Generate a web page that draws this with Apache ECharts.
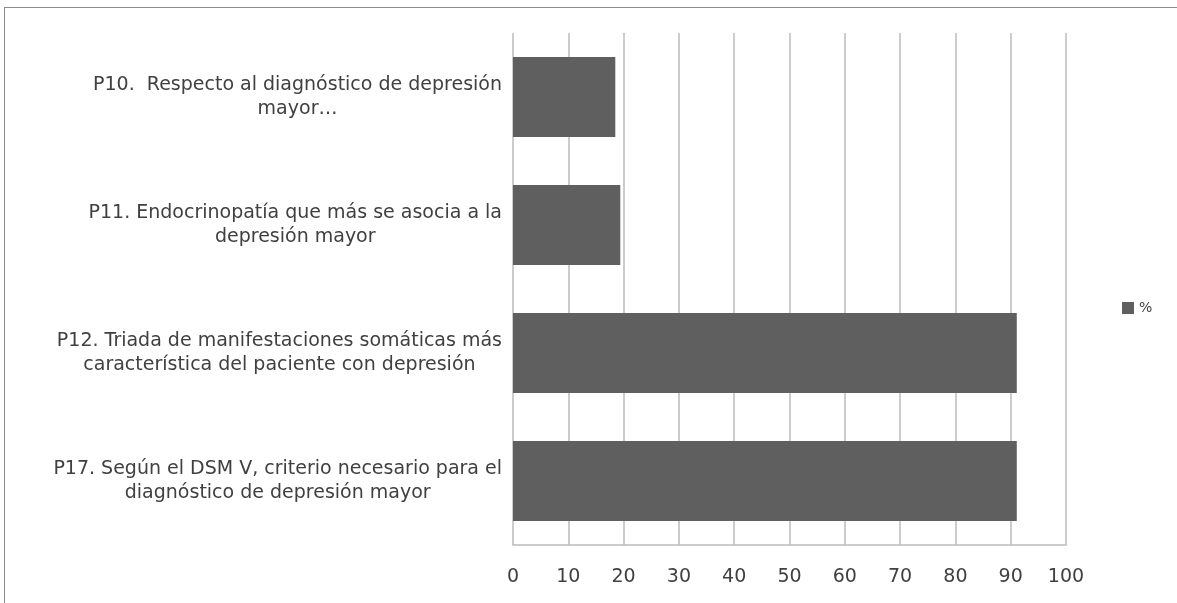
<!DOCTYPE html>
<html>
<head>
<meta charset="utf-8">
<script src="https://cdn.jsdelivr.net/npm/echarts@6/dist/echarts.min.js"></script>
<style>
html,body{margin:0;padding:0;background:#fff;}
#c{width:1177px;height:603px;position:relative;}
#frame{position:absolute;left:4px;top:7px;width:1200px;height:620px;border-left:1px solid #8c8c8c;border-top:1px solid #8c8c8c;pointer-events:none;}
</style>
</head>
<body>
<div id="c"></div>
<div id="frame"></div>
<script>
const categories = [
  ['P10.  Respecto al diagnóstico de depresión', 'mayor…'],
  ['P11. Endocrinopatía que más se asocia a la', 'depresión mayor'],
  ['P12. Triada de manifestaciones somáticas más', 'característica del paciente con depresión'],
  ['P17. Según el DSM V, criterio necesario para el', 'diagnóstico de depresión mayor']
];
const seriesName = '%';
const values = [18.5, 19.4, 91.1, 91.1];
const xTicks = {min: 0, max: 100, interval: 10};

const FONT = 'DejaVu Sans';
const chart = echarts.init(document.getElementById('c'));
chart.setOption({
  animation: false,
  backgroundColor: '#ffffff',
  textStyle: {fontFamily: FONT},
  grid: {left: 513, right: 111, top: 33, bottom: 58},
  legend: {
    data: [seriesName],
    left: 1122, top: 301,
    padding: 0,
    orient: 'vertical',
    itemWidth: 12, itemHeight: 12, itemGap: 5,
    icon: 'rect',
    textStyle: {fontSize: 14, color: '#404040', fontFamily: FONT}
  },
  xAxis: {
    type: 'value',
    min: xTicks.min, max: xTicks.max, interval: xTicks.interval,
    axisLine: {show: true, lineStyle: {color: '#bbbbbb', width: 1.5}},
    axisTick: {show: false},
    splitLine: {show: true, lineStyle: {color: '#bbbbbb', width: 1.5}},
    axisLabel: {fontSize: 19, color: '#404040', margin: 23, fontFamily: FONT}
  },
  yAxis: {
    type: 'category',
    inverse: true,
    data: categories.map(c => c.join('\n')),
    axisLine: {show: false},
    axisTick: {show: false},
    splitLine: {show: false},
    axisLabel: {
      margin: 11,
      align: 'right',
      formatter: function (v) {
        return v.split('\n').map(s => '{c|' + s + '}').join('\n');
      },
      rich: {
        c: {align: 'center', fontSize: 19, lineHeight: 24, color: '#404040', fontFamily: FONT}
      }
    }
  },
  series: [{
    name: seriesName,
    type: 'bar',
    data: values,
    barWidth: 80,
    itemStyle: {color: '#5f5f5f'}
  }]
});
</script>
</body>
</html>
